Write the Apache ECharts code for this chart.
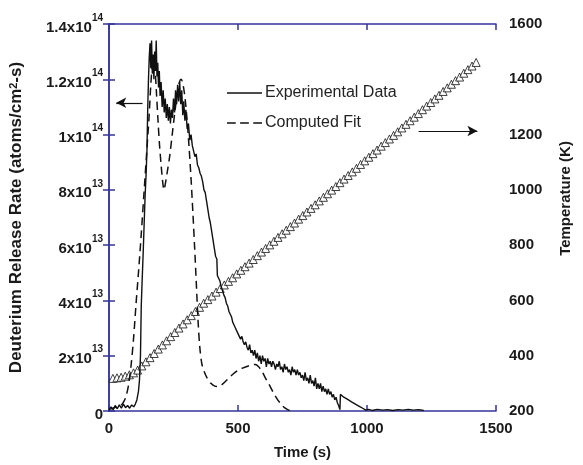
<!DOCTYPE html>
<html>
<head>
<meta charset="utf-8">
<script src="https://cdn.jsdelivr.net/npm/echarts@6/dist/echarts.min.js"></script>
<style>html,body{margin:0;padding:0;background:#fff}#c{width:583px;height:465px}</style>
</head>
<body>
<div id="c"></div>
<script>
// Experimental data: [time (s), release rate in units of 1e13 atoms/cm^2-s]
const experimentalData = [
[0,0.05],[8,0.15],[16,0.05],[24,0.2],[32,0.08],[40,0.22],[48,0.1],[56,0.25],[64,0.12],[72,0.2],[80,0.1],[88,0.22],
[96,0.15],[102,0.25],[108,0.4],[114,0.7],[118,1.1],[122,2.0],[125,3.8],[128,4.6],[132,5.6],[136,6.7],[140,7.8],
[144,8.6],[147,9.4],[150,10.9],[153,12.0],[156,12.8],[159,13.3],[162,12.4],[165,13.4],[168,12.2],[171,12.9],
[174,12.0],[177,13.0],[180,12.3],[183,13.4],[186,12.1],[189,12.6],[192,11.7],[195,12.3],[198,11.4],[202,11.9],
[206,11.0],[210,11.6],[214,10.8],[218,11.3],[222,10.6],[226,11.1],[230,10.5],[234,11.0],[238,10.4],[242,10.9],
[246,10.6],[250,11.3],[254,10.8],[258,11.6],[262,11.1],[266,11.8],[270,11.2],[274,11.9],[278,11.1],[282,11.6],
[286,10.7],[290,11.2],[294,10.5],[298,10.9],[303,10.2],[308,10.4],[313,9.8],[318,10.0],[323,9.6],[328,9.6],
[333,9.2],[338,9.3],[343,8.9],[348,8.8],[353,8.6],[358,8.5],[363,8.3],[368,8.0],[373,7.9],[378,7.6],[383,7.3],
[388,7.0],[393,6.8],[398,6.5],[403,6.2],[408,5.9],[413,5.6],[418,5.5],[420,4.9],[425,4.8],[430,4.7],[435,4.5],
[440,4.5],[445,4.2],[450,4.1],[455,3.9],[460,3.8],[465,3.6],[470,3.5],[475,3.4],[480,3.2],[485,3.2],[490,3.0],
[495,2.9],[500,2.8],[505,2.7],[510,2.6],[515,2.7],[520,2.5],[525,2.4],[530,2.5],[535,2.3],[540,2.2],[545,2.4],
[550,2.1],[555,2.2],[560,2.0],[565,2.2],[570,1.9],[575,2.1],[580,1.8],[585,2.0],[590,1.7],[595,2.0],[600,1.8],
[605,1.9],[610,1.6],[615,1.9],[620,1.7],[625,1.8],[630,1.6],[635,1.8],[640,1.7],[645,1.5],[650,1.7],[655,1.6],
[660,1.8],[665,1.5],[670,1.6],[675,1.4],[680,1.7],[685,1.5],[690,1.6],[695,1.4],[700,1.5],[705,1.3],[710,1.6],
[715,1.4],[720,1.5],[725,1.3],[730,1.5],[735,1.3],[740,1.4],[745,1.2],[750,1.3],[755,1.1],[760,1.4],[765,1.1],
[770,1.2],[775,1.0],[780,1.3],[785,1.0],[790,1.1],[795,0.9],[800,1.2],[805,0.8],[810,1.0],[815,0.8],[820,1.0],
[825,0.7],[830,0.9],[835,0.7],[840,0.8],[845,0.6],[850,0.8],[855,0.6],[860,0.7],[865,0.5],[870,0.6],[875,0.4],
[880,0.5],[885,0.3],[890,0.2],[895,0.05],[897,0.6],[910,0.5],[925,0.42],[940,0.33],[955,0.25],[970,0.17],
[985,0.09],[995,0.03],[1005,0.06],[1020,0.02],[1040,0.06],[1060,0.03],[1080,0.05],[1100,0.02],[1120,0.05],
[1140,0.03],[1160,0.06],[1180,0.03],[1200,0.05],[1220,0.02]
];
// Computed fit: [time (s), release rate in units of 1e13]
const computedFitData = [
[0,0.05],[15,0.1],[30,0.15],[45,0.2],[55,0.3],[65,0.5],[75,0.9],[85,1.6],[95,2.6],[105,3.9],[115,5.1],[125,6.4],
[135,7.8],[145,9.2],[155,10.6],[162,11.8],[168,12.5],[173,12.7],[178,12.4],[184,11.5],[190,10.5],[196,9.6],
[202,8.9],[208,8.3],[213,8.0],[218,8.2],[225,8.6],[235,9.2],[245,10.0],[255,10.8],[265,11.5],[273,11.9],
[280,12.0],[287,11.8],[295,11.3],[302,10.6],[310,9.6],[318,8.4],[325,7.2],[332,5.9],[339,4.5],[345,3.3],
[352,2.3],[360,1.7],[370,1.4],[380,1.2],[395,1.0],[410,0.9],[423,0.88],[440,0.97],[460,1.15],[480,1.33],
[500,1.47],[520,1.56],[540,1.63],[555,1.67],[567,1.68],[580,1.6],[592,1.45],[605,1.22],[620,0.97],[635,0.7],
[650,0.46],[665,0.27],[680,0.12],[695,0.04],[705,0.0]
];
// Temperature: [time (s), K]
const temperatureData = [
[15,318],[31,320],[47,322],[63,326],[79,331],[95,338],[111,348],[127,363],[143,378],[159,393],[175,408],
[191,424],[207,439],[223,454],[239,469],[255,484],[271,500],[287,515],[303,530],[319,545],[335,560],[351,575],
[367,590],[383,603],[399,616],[415,630],[431,643],[447,656],[463,669],[479,682],[495,696],[511,709],[527,722],
[543,735],[559,748],[575,762],[591,775],[607,788],[623,801],[639,814],[655,828],[671,841],[687,854],[703,867],
[719,880],[735,894],[751,907],[767,920],[783,933],[799,946],[815,960],[831,973],[847,986],[863,999],[879,1012],
[895,1026],[911,1039],[927,1052],[943,1065],[959,1078],[975,1092],[991,1105],[1007,1118],[1023,1131],
[1039,1144],[1055,1158],[1071,1171],[1087,1184],[1103,1197],[1119,1210],[1135,1224],[1151,1237],[1167,1250],
[1183,1263],[1199,1276],[1215,1290],[1231,1303],[1247,1316],[1263,1329],[1279,1342],[1295,1356],[1311,1369],
[1327,1382],[1343,1395],[1359,1408],[1375,1422],[1391,1435],[1407,1448],[1423,1461]
];
const seriesNames = ['Experimental Data', 'Computed Fit'];
// annotation arrows (data coordinates)
const leftArrow = {from: [130, 1.115e14], to: [28, 1.115e14]};
const rightArrow = {from: [1200, 1213], to: [1428, 1213]};

const SCALE = 1e13;
const FONT = 'Liberation Sans, Arial, Helvetica, sans-serif';
const AXIS = '#34349a';
const TXT = '#1a1a1a';

function fmtRate(v) {
  if (Math.abs(v) < 1) return '{b|0}';
  const e = v >= 1e14 * 0.999 ? 14 : 13;
  const m = Math.round(v / Math.pow(10, e) * 10) / 10;
  return '{b|' + m + 'x10}{s|' + e + '}';
}
const richTick = {
  b: {fontSize: 15, fontWeight: 'bold', fontFamily: FONT, color: TXT, lineHeight: 22, verticalAlign: 'bottom'},
  s: {fontSize: 10, fontWeight: 'bold', fontFamily: FONT, color: TXT, lineHeight: 10, verticalAlign: 'top'}
};
const plain = v => String(v);

const chart = echarts.init(document.getElementById('c'), null, {renderer: 'canvas'});
const axisCommon = {
  axisLine: {show: true, lineStyle: {color: AXIS, width: 1.5}},
  axisTick: {show: true, inside: true, length: 6, lineStyle: {color: AXIS, width: 1.5}},
  splitLine: {show: false}
};
chart.setOption({
  animation: false,
  backgroundColor: '#fff',
  grid: {left: 109, right: 87, top: 24, bottom: 54, containLabel: false},
  legend: {
    show: true,
    data: [
      {name: seriesNames[0], icon: 'path://M0,0H36V1.4H0Z'},
      {name: seriesNames[1], icon: 'path://M0,0H9V1.4H0Z M13.5,0H22.5V1.4H13.5Z M27,0H36V1.4H27Z'}
    ],
    orient: 'vertical', left: 227, top: 84, padding: 0,
    itemWidth: 35, itemHeight: 1.4, itemGap: 12, symbolKeepAspect: false,
    textStyle: {fontSize: 16, fontFamily: FONT, color: '#222', lineHeight: 18, padding: [0, 0, 0, -2]}
  },
  xAxis: [
    Object.assign({}, axisCommon, {
      type: 'value', min: 0, max: 1500, interval: 500, position: 'bottom',
      name: 'Time (s)', nameLocation: 'middle', nameGap: 34,
      nameTextStyle: {fontSize: 15, fontWeight: 'bold', fontFamily: FONT, color: TXT},
      axisLabel: {margin: 10, fontSize: 15, fontWeight: 'bold', fontFamily: FONT, color: TXT, formatter: plain}
    }),
    Object.assign({}, axisCommon, {
      type: 'value', min: 0, max: 1500, interval: 500, position: 'top',
      axisLabel: {show: false}
    })
  ],
  yAxis: [
    Object.assign({}, axisCommon, {
      type: 'value', min: 0, max: 1.4e14, interval: 2e13, position: 'left',
      name: 'Deuterium Release Rate (atoms/cm{s|2}-s)', nameLocation: 'middle', nameGap: 84, nameRotate: 90,
      nameTextStyle: {fontSize: 17, fontWeight: 'bold', fontFamily: FONT, color: TXT,
        rich: {s: {fontSize: 11, fontWeight: 'bold', fontFamily: FONT, color: TXT, verticalAlign: 'top', lineHeight: 11}}},
      axisLabel: {margin: 6, formatter: fmtRate, rich: richTick}
    }),
    Object.assign({}, axisCommon, {
      type: 'value', min: 200, max: 1600, interval: 200, position: 'right',
      name: 'Temperature (K)', nameLocation: 'middle', nameGap: 62, nameRotate: 90,
      nameTextStyle: {fontSize: 15, fontWeight: 'bold', fontFamily: FONT, color: TXT, padding: [0, 0, 0, 38]},
      axisLabel: {margin: 13, fontSize: 15, fontWeight: 'bold', fontFamily: FONT, color: TXT, formatter: plain}
    })
  ],
  series: [
    {
      name: seriesNames[0], type: 'line', xAxisIndex: 0, yAxisIndex: 0,
      data: experimentalData.map(p => [p[0], p[1] * SCALE]),
      showSymbol: false, symbol: 'none', z: 3,
      lineStyle: {color: '#111', width: 1.4},
      itemStyle: {color: '#111'},
      markLine: {
        silent: true, symbol: ['none', 'arrow'], symbolSize: [8, 10], label: {show: false},
        lineStyle: {color: '#111', width: 1.2, type: 'solid'},
        data: [[{coord: leftArrow.from}, {coord: leftArrow.to}]]
      }
    },
    {
      name: seriesNames[1], type: 'line', xAxisIndex: 0, yAxisIndex: 0,
      data: computedFitData.map(p => [p[0], p[1] * SCALE]),
      showSymbol: false, symbol: 'none', smooth: 0.3, z: 3,
      lineStyle: {color: '#111', width: 1.5, type: [8, 5]},
      itemStyle: {color: '#111'}
    },
    {
      name: 'Temperature', type: 'scatter', xAxisIndex: 0, yAxisIndex: 1,
      data: temperatureData, symbol: 'triangle', symbolSize: 8, z: 2,
      itemStyle: {color: '#fff', borderColor: '#111', borderWidth: 1},
      markLine: {
        silent: true, symbol: ['none', 'arrow'], symbolSize: [8, 10], label: {show: false},
        lineStyle: {color: '#111', width: 1.2, type: 'solid'},
        data: [[{coord: rightArrow.from}, {coord: rightArrow.to}]]
      }
    }
  ]
});
</script>
</body>
</html>
